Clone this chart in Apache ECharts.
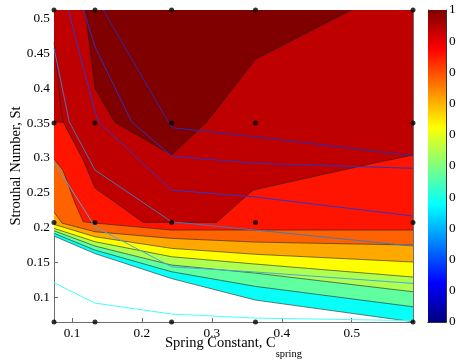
<!DOCTYPE html>
<html>
<head>
<meta charset="utf-8">
<script src="https://cdn.jsdelivr.net/npm/echarts@6/dist/echarts.min.js"></script>
<style>
  html, body { margin: 0; padding: 0; background: #fff; }
  #chart { width: 456px; height: 364px; }
</style>
</head>
<body>
<div id="chart"></div>
<script>
// measurement grid (black dots)
const xGrid = [0.0743, 0.1329, 0.2424, 0.3624, 0.5876];
const yGrid = [0.065, 0.2077, 0.35, 0.512];

const xTicks = [0.1, 0.2, 0.3, 0.4, 0.5];
const yTicks = [0.1, 0.15, 0.2, 0.25, 0.3, 0.35, 0.4, 0.45, 0.5];

// filled contour boundaries, lowest level first (region = everything above the line)
const bandCyan = [[0.0743, 0.1881], [0.1329, 0.163], [0.2424, 0.1272], [0.3624, 0.0964], [0.5876, 0.0653]];
const bandGreen = [[0.0743, 0.192], [0.1329, 0.168], [0.2424, 0.137], [0.3624, 0.116], [0.5876, 0.0868]];
const bandLime = [[0.0743, 0.1957], [0.1329, 0.1738], [0.2424, 0.1466], [0.3624, 0.135], [0.5876, 0.1083]];
const bandYellow = [[0.0743, 0.1991], [0.1329, 0.18], [0.2424, 0.1585], [0.3624, 0.148], [0.5876, 0.1294]];
const bandAmber = [[0.0743, 0.2048], [0.1329, 0.1871], [0.2424, 0.1705], [0.3624, 0.162], [0.5876, 0.1509]];
const bandOrange = [[0.0743, 0.2225], [0.0857, 0.2067], [0.1329, 0.1943], [0.2424, 0.1848], [0.3624, 0.1795], [0.5876, 0.1752]];
const bandRed = [[0.0743, 0.2984], [0.0871, 0.2827], [0.1043, 0.2354], [0.1161, 0.2086], [0.1329, 0.2067], [0.2424, 0.1967], [0.5876, 0.1967]];
const bandDark = [[0.0743, 0.352], [0.0876, 0.351], [0.1161, 0.297], [0.1329, 0.2569], [0.2019, 0.2077], [0.3067, 0.2077], [0.359, 0.254], [0.5304, 0.2923], [0.5876, 0.3042]];
// top level is a closed pocket touching the upper edge
const bandDeep = [[0.1186, 0.512], [0.1329, 0.3997], [0.1614, 0.351], [0.2424, 0.3042], [0.2924, 0.351], [0.3624, 0.4413], [0.4996, 0.512]];
// short black contour edge near the upper left border
const edgeLeft = [[0.0743, 0.466], [0.0853, 0.3639], [0.0876, 0.351]];

// overlaid contour lines of the second quantity
const lineP1 = [[0.0743, 0.4574], [0.0961, 0.3519], [0.1329, 0.2827], [0.2424, 0.2086], [0.3624, 0.1967], [0.5876, 0.1738]];
const lineP2 = [[0.0947, 0.512], [0.1329, 0.3658], [0.1386, 0.351], [0.2424, 0.254], [0.3624, 0.244], [0.5876, 0.2168]];
const lineP3 = [[0.1167, 0.512], [0.1329, 0.4592], [0.1853, 0.3519], [0.2424, 0.3028], [0.3624, 0.2923], [0.5876, 0.2852]];
const lineP4 = [[0.1447, 0.512], [0.2376, 0.3519], [0.2439, 0.3433], [0.3624, 0.3304], [0.5876, 0.3032]];
const lineC1 = [[0.0743, 0.2943], [0.1329, 0.2014], [0.2424, 0.1441], [0.3624, 0.1366], [0.5876, 0.1203]];
const lineC2 = [[0.0743, 0.1212], [0.1329, 0.0921], [0.2424, 0.0764], [0.3624, 0.0706], [0.5876, 0.067]];

const bands = [bandCyan, bandGreen, bandLime, bandYellow, bandAmber, bandOrange, bandRed, bandDark, bandDeep];
const bandColors = ['#08FFF7', '#60FFA0', '#AFFF50', '#FFFF00', '#FFA800', '#FF6200', '#FF1400', '#BF0000', '#800000'];
const overlay = [
  { data: edgeLeft, color: '#222', width: 0.6 },
  { data: lineP1, color: '#4477BB', width: 1 },
  { data: lineP2, color: '#3333CC', width: 1 },
  { data: lineP3, color: '#3030C0', width: 1 },
  { data: lineP4, color: '#2A2AB0', width: 1 },
  { data: lineC1, color: '#44AADD', width: 1 },
  { data: lineC2, color: '#44FFFF', width: 1 }
];

const xMin = xGrid[0], xMax = xGrid[xGrid.length - 1];
const yMin = yGrid[0], yMax = yGrid[yGrid.length - 1];
const font = 'Liberation Serif';
const axisGrey = '#6e6e6e';

const dots = [];
xGrid.forEach(x => yGrid.forEach(y => dots.push([x, y])));

const chart = echarts.init(document.getElementById('chart'));

const option = {
  animation: false,
  backgroundColor: '#fff',
  textStyle: { fontFamily: font },
  grid: [
    { left: 54, top: 10, width: 359, height: 312, outerBoundsMode: 'none', containLabel: false },
    { left: 428, top: 10, width: 18, height: 312, outerBoundsMode: 'none', containLabel: false }
  ],
  xAxis: [
    {
      gridIndex: 0, type: 'value', min: xMin, max: xMax,
      name: '{m|Spring Constant, C}{s|spring}', nameLocation: 'middle', nameGap: 14, nameMoveOverlap: false,
      nameTextStyle: {
        fontFamily: font, fontSize: 14.5, color: '#000',
        rich: {
          m: { fontFamily: font, fontSize: 14.5, color: '#000', lineHeight: 16, verticalAlign: 'top' },
          s: { fontFamily: font, fontSize: 10.5, color: '#000', lineHeight: 13, verticalAlign: 'top', padding: [13, 0, 0, 0] }
        }
      },
      axisLine: { lineStyle: { color: axisGrey, width: 1 } },
      axisTick: { inside: true, length: 4, customValues: xTicks, lineStyle: { color: axisGrey } },
      axisLabel: { customValues: xTicks, margin: 5, fontFamily: font, fontSize: 13.3, color: '#000', formatter: v => String(+v.toFixed(2)) },
      splitLine: { show: false }
    },
    {
      gridIndex: 0, type: 'value', min: xMin, max: xMax, position: 'top',
      axisLine: { lineStyle: { color: axisGrey, width: 1 } },
      axisTick: { inside: true, length: 4, customValues: xTicks, lineStyle: { color: axisGrey } },
      axisLabel: { show: false },
      splitLine: { show: false }
    },
    {
      gridIndex: 1, type: 'category', data: ['c'],
      axisLine: { show: true, lineStyle: { color: '#333' } },
      axisTick: { show: false }, axisLabel: { show: false }
    },
    {
      gridIndex: 1, type: 'category', data: ['c'], position: 'top',
      axisLine: { show: true, lineStyle: { color: '#333' } },
      axisTick: { show: false }, axisLabel: { show: false }
    }
  ],
  yAxis: [
    {
      gridIndex: 0, type: 'value', min: yMin, max: yMax,
      name: 'Strouhal Number, St', nameLocation: 'middle', nameGap: 30, nameMoveOverlap: false,
      nameTextStyle: { fontFamily: font, fontSize: 14.5, color: '#000' },
      axisLine: { lineStyle: { color: axisGrey, width: 1 } },
      axisTick: { inside: true, length: 4, customValues: yTicks, lineStyle: { color: axisGrey } },
      axisLabel: { customValues: yTicks, margin: 4, fontFamily: font, fontSize: 13.3, color: '#000', formatter: v => String(+v.toFixed(2)) },
      splitLine: { show: false }
    },
    {
      gridIndex: 0, type: 'value', min: yMin, max: yMax, position: 'right',
      axisLine: { lineStyle: { color: axisGrey, width: 1 } },
      axisTick: { inside: true, length: 4, customValues: yTicks, lineStyle: { color: axisGrey } },
      axisLabel: { show: false },
      splitLine: { show: false }
    },
    {
      gridIndex: 1, type: 'value', min: 0, max: 1, interval: 0.1,
      axisLine: { show: true, lineStyle: { color: '#333' } },
      axisTick: { inside: true, length: 3, lineStyle: { color: '#333' } },
      axisLabel: { show: false },
      splitLine: { show: false }
    },
    {
      gridIndex: 1, type: 'value', min: 0, max: 1, interval: 0.1, position: 'right',
      axisLine: { show: true, lineStyle: { color: '#333' } },
      axisTick: { inside: true, length: 3, lineStyle: { color: '#333' } },
      axisLabel: { margin: 3, fontFamily: font, fontSize: 13.3, color: '#000', hideOverlap: false, formatter: v => (v === 1 ? '1' : v.toFixed(1)) },
      splitLine: { show: false }
    }
  ],
  series: [
    {
      type: 'custom',
      xAxisIndex: 0, yAxisIndex: 0,
      silent: true,
      clip: true,
      z: 1,
      data: bands.map((b, i) => [i]),
      renderItem: function (params, api) {
        const k = params.dataIndex;
        const line = bands[k];
        const closed = k === bands.length - 1;
        const poly = (closed ? line : line.concat([[xMax, yMax], [xMin, yMax]])).map(p => api.coord(p));
        const edge = line.map(p => api.coord(p));
        return {
          type: 'group',
          children: [
            { type: 'polygon', shape: { points: poly }, style: { fill: bandColors[k] } },
            { type: 'polyline', shape: { points: edge }, style: { fill: null, stroke: '#222', lineWidth: 0.6 } }
          ]
        };
      }
    },
    ...overlay.map(o => ({
      type: 'line',
      xAxisIndex: 0, yAxisIndex: 0,
      data: o.data,
      showSymbol: false,
      silent: true,
      z: 3,
      lineStyle: { color: o.color, width: o.width }
    })),
    {
      type: 'scatter',
      xAxisIndex: 0, yAxisIndex: 0,
      data: dots,
      symbolSize: 5,
      clip: false,
      silent: true,
      z: 5,
      itemStyle: { color: '#000' }
    },
    {
      type: 'bar',
      xAxisIndex: 2, yAxisIndex: 2,
      data: [1],
      barWidth: '100%',
      silent: true,
      itemStyle: {
        color: new echarts.graphic.LinearGradient(0, 0, 0, 1, [
          { offset: 0, color: '#800000' },
          { offset: 0.125, color: '#FF0000' },
          { offset: 0.375, color: '#FFFF00' },
          { offset: 0.625, color: '#00FFFF' },
          { offset: 0.875, color: '#0000FF' },
          { offset: 1, color: '#000080' }
        ])
      }
    }
  ]
};

chart.setOption(option);
</script>
</body>
</html>
